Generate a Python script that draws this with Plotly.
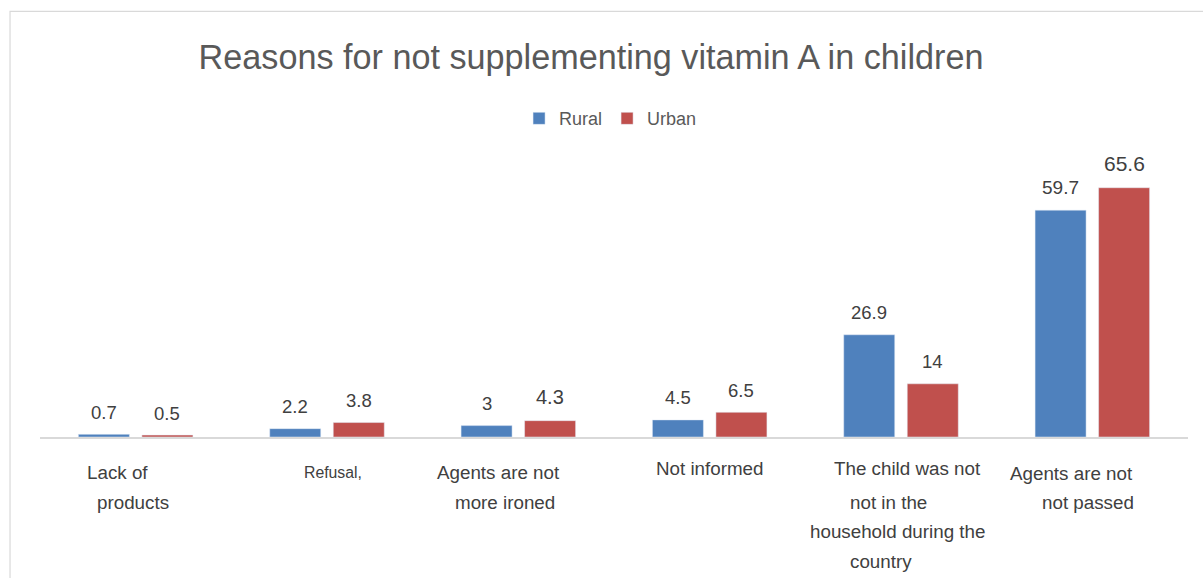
import plotly.graph_objects as go

# Reasons (x categories), with each label split into its display lines
categories = ["Lack of products", "Refusal", "Agents are not more ironed",
              "Not informed", "The child was not in the household", "Agents are not passed"]
label_lines = [
    ["Lack of", "products"],
    ["Refusal,"],
    ["Agents are not", "more ironed"],
    ["Not informed"],
    ["The child was not", "not in the", "household during the", "country"],
    ["Agents are not", "not passed"],
]
rural = [0.7, 2.2, 3, 4.5, 26.9, 59.7]
urban = [0.5, 3.8, 4.3, 6.5, 14, 65.6]

# per-line placement of the category labels: (x offset px, y px below baseline)
label_pos = [
    [(-18, 35), (-3, 65)],
    [(6, 35)],
    [(-20, 35), (-13, 65)],
    [(0, 31)],
    [(6, 31), (-13, 65), (-4, 94), (-20, 124)],
    [(-21, 36), (-4, 65)],
]

BLUE = "#4f81bd"
RED = "#c0504d"
FONT = "Liberation Sans, Arial, sans-serif"

series = [
    ("Rural", rural, BLUE, -31.75, [18.5, 18.5, 18.5, 18.5, 18.5, 19]),
    ("Urban", urban, RED, 31.75, [18.5, 18.5, 20, 18.5, 18.5, 21]),
]

fig = go.Figure()
for name, vals, color, dx, sizes in series:
    fig.add_trace(go.Bar(x=categories, y=vals, name=name, marker_color=color))
    # value labels above each bar
    for cat, v, s in zip(categories, vals, sizes):
        fig.add_annotation(
            x=cat, y=v, xref="x", yref="y", text=str(v), showarrow=False,
            xanchor="center", yanchor="middle", xshift=dx, yshift=22 + (s - 18.5),
            font=dict(family=FONT, size=s, color="#404040"),
        )

for cat, lines, pos in zip(categories, label_lines, label_pos):
    for line, (dx, dy) in zip(lines, pos):
        fig.add_annotation(
            x=cat, y=0, xref="x", yref="y", text=line, showarrow=False,
            xanchor="center", yanchor="middle", xshift=dx, yshift=-dy,
            font=dict(family=FONT, size=15.8 if line == "Refusal," else 18.8, color="#404040"),
        )

# outer chart frame
fig.add_shape(type="rect", xref="paper", yref="paper",
              x0=-0.0261, x1=1.2, y0=-1.0, y1=1.4933,
              line=dict(color="#d9d9d9", width=1.2), fillcolor="rgba(0,0,0,0)", layer="below")

fig.update_layout(
    width=1203, height=578,
    margin=dict(l=40, r=15, t=152, b=141),
    paper_bgcolor="white", plot_bgcolor="white",
    font=dict(family=FONT, color="#595959"),
    title=dict(text="Reasons for not supplementing vitamin A in children",
               x=0.4913, xanchor="center", y=0.901, yanchor="middle",
               font=dict(size=34.2, color="#595959", family=FONT)),
    barmode="group", bargap=0.336, bargroupgap=0.197,
    showlegend=True,
    legend=dict(orientation="h", x=0.497, xanchor="center", y=1.117, yanchor="middle",
                font=dict(size=18, color="#595959"), itemwidth=30, traceorder="normal"),
    xaxis=dict(showticklabels=False, showline=True, linecolor="#d9d9d9", linewidth=2,
               ticks="", showgrid=False, zeroline=False),
    yaxis=dict(range=[0, 75], visible=False, showgrid=False, zeroline=False),
)

fig.write_html("out.html")
